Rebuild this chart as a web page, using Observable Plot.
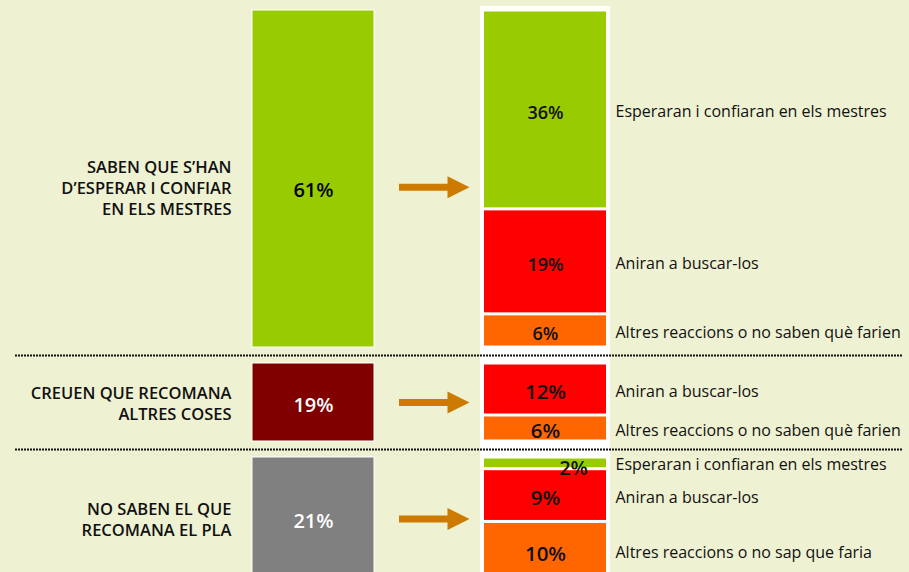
<!DOCTYPE html>
<html>
<head>
<meta charset="utf-8">
<script src="https://cdn.jsdelivr.net/npm/d3@7"></script>
<script src="https://cdn.jsdelivr.net/npm/@observablehq/plot@0.6"></script>
<style>
  html, body { margin: 0; padding: 0; background: #eff2d2; }
  #chart svg { display: block; }
</style>
</head>
<body>
<div id="chart"></div>
<script>
// ---------- DATA ----------
const groupLabels = [
  "SABEN QUE S’HAN\nD’ESPERAR I CONFIAR\nEN ELS MESTRES",
  "CREUEN QUE RECOMANA\nALTRES COSES",
  "NO SABEN EL QUE\nRECOMANA EL PLA"
];
const groupValues = [61, 19, 21];

const reactionGroup = [0, 0, 0, 1, 1, 2, 2, 2];
const reactionValues = [36, 19, 6, 12, 6, 2, 9, 10];
const reactionTypes = ["wait", "seek", "other", "seek", "other", "wait", "seek", "other"];
const reactionLabels = [
  "Esperaran i confiaran en els mestres",
  "Aniran a buscar-los",
  "Altres reaccions o no saben què farien",
  "Aniran a buscar-los",
  "Altres reaccions o no saben què farien",
  "Esperaran i confiaran en els mestres",
  "Aniran a buscar-los",
  "Altres reaccions o no sap que faria"
];

// ---------- STYLE / LAYOUT ----------
const W = 909, H = 572;
const BG = "#eff2d2";
const FONT = "'Open Sans', 'DejaVu Sans', sans-serif";
const groupFill = ["#99cc00", "#800000", "#808080"];
const groupText = ["#000000", "#ffffff", "#ffffff"];
const typeFill = {wait: "#99cc00", seek: "#ff0000", other: "#ff6600"};
const ARROW = "#cc7a00";
const GAP = 3;                      // gap between groups (in value units)
const groupPx = [[10, 347], [363, 441], [457, 580]]; // vertical band of each group
const labelNudge = [1.5, 0, 0];     // small downward shift of the group-1 label row (value units)
const col = {label: 231, left: [252, 374], arrow: [399, 449], head: 447, panel: [480, 610], right: [484, 606], desc: 615, rule: [15, 902]};

// ---------- DERIVED TABLES ----------
const groupStart = groupValues.map((_, i) => d3.sum(groupValues.slice(0, i)) + i * GAP);
const groups = groupValues.map((v, i) => ({
  label: groupLabels[i], value: v,
  y1: groupStart[i], y2: groupStart[i] + v, ym: groupStart[i] + v / 2 + labelNudge[i],
  fill: groupFill[i], text: groupText[i]
}));

const reactions = [];
groups.forEach((g, gi) => {
  const idx = reactionValues.map((_, i) => i).filter(i => reactionGroup[i] === gi);
  const k = g.value / d3.sum(idx, i => reactionValues[i]);
  let acc = g.y1;
  for (const i of idx) {
    const h = reactionValues[i] * k;
    reactions.push({group: gi, value: reactionValues[i], type: reactionTypes[i], label: reactionLabels[i],
      y1: acc, y2: acc + h, ym: acc + h / 2, fill: typeFill[reactionTypes[i]]});
    acc += h;
  }
});

const separators = groups.slice(1).map(g => g.y1 - GAP / 2);
const yDomain = groups.flatMap(g => [g.y1, g.y2]);
const yRange = groupPx.flat();

const arrowHead = {
  draw(context) {
    context.moveTo(0, -11);
    context.lineTo(22, 0);
    context.lineTo(0, 11);
    context.closePath();
  }
};

const chart = Plot.plot({
  width: W, height: H, margin: 0,
  style: {background: BG, fontFamily: FONT, overflow: "hidden"},
  x: {type: "linear", domain: [0, W], range: [0, W], axis: null},
  y: {type: "linear", domain: yDomain, range: yRange, axis: null},
  color: {type: "identity"},
  marks: [
    // white panel behind the right column
    Plot.rect([groups], {x1: col.panel[0], x2: col.panel[1], y1: d => d[0].y1, y2: d => d[d.length - 1].y2,
      fill: "white", insetTop: -4, insetBottom: -20}),
    // dotted separators
    Plot.ruleY(separators, {y: d => d, x1: col.rule[0], x2: col.rule[1], stroke: "#111", strokeWidth: 2, strokeDasharray: "2,1"}),
    // left bars
    Plot.rect(groups, {x1: col.left[0], x2: col.left[1], y1: "y1", y2: "y2", fill: "fill", stroke: "white", strokeWidth: 1}),
    // right stacked bars
    Plot.rect(reactions, {x1: col.right[0], x2: col.right[1], y1: "y1", y2: "y2", fill: "fill", insetTop: 1.5, insetBottom: 1.5}),
    // arrows
    Plot.ruleY(groups, {y: "ym", x1: col.arrow[0], x2: col.arrow[1], stroke: ARROW, strokeWidth: 7}),
    Plot.dot(groups, {y: "ym", x: col.head, symbol: arrowHead, fill: ARROW, stroke: "none", r: 5}),
    // group labels
    Plot.text(groups, {y: "ym", x: col.label, text: "label", textAnchor: "end", fontSize: 16.5, fontWeight: 600,
      lineHeight: 1.27, fill: "#111"}),
    // left values
    Plot.text(groups, {y: "ym", x: (col.left[0] + col.left[1]) / 2, text: d => d.value + "%", fill: "text",
      fontSize: 20, fontWeight: 600, dy: 3}),
    // right values
    Plot.text(reactions.filter(d => d.value >= 4), {y: "ym", x: (col.right[0] + col.right[1]) / 2, text: d => d.value + "%",
      fontSize: d => d.group === 0 ? 18 : 20.5, fontWeight: 600, fill: "#111", dy: 3}),
    Plot.text(reactions.filter(d => d.value < 4), {y: "ym", x: (col.right[0] + col.right[1]) / 2, text: d => d.value + "%",
      fontSize: 20, fontWeight: 600, fill: "#111", dx: 28, dy: 5}),
    // descriptions
    Plot.text(reactions, {y: "ym", x: col.desc, text: "label", textAnchor: "start", fontSize: 16, fontWeight: 500, fill: "#111", dy: 2})
  ]
});
document.getElementById("chart").appendChild(chart);
</script>
</body>
</html>
